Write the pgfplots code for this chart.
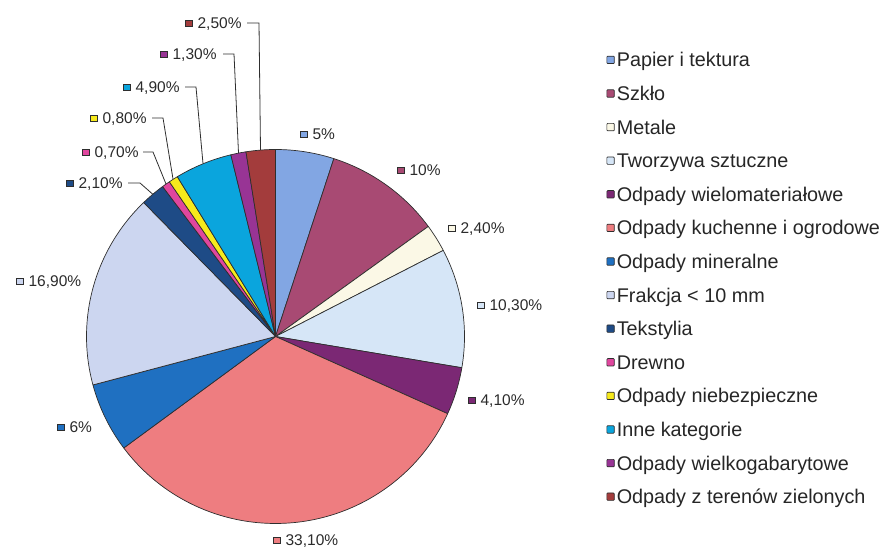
\documentclass[border=0pt]{standalone}
\usepackage{pgfplots}
\pgfplotsset{compat=1.18}
\usepackage{fontspec}
\setmainfont{Liberation Sans}

\definecolor{cPap}{HTML}{82A6E3}
\definecolor{cSzk}{HTML}{A84A73}
\definecolor{cMet}{HTML}{FBF8E6}
\definecolor{cTwo}{HTML}{D6E6F7}
\definecolor{cWie}{HTML}{7B2874}
\definecolor{cKuc}{HTML}{EE7D80}
\definecolor{cMin}{HTML}{1F70C1}
\definecolor{cFra}{HTML}{CCD6F0}
\definecolor{cTek}{HTML}{1E4B86}
\definecolor{cDre}{HTML}{E0469E}
\definecolor{cNie}{HTML}{F7EA1C}
\definecolor{cInn}{HTML}{0AA5DD}
\definecolor{cWgb}{HTML}{983495}
\definecolor{cZie}{HTML}{A33C3C}
\definecolor{edge}{HTML}{2E2E2E}
\definecolor{lbltext}{HTML}{2B2B2B}
\definecolor{legtext}{HTML}{262626}

% small square used in data labels
\newcommand\mk[1]{\raisebox{2bp}{\setlength\fboxsep{0pt}\setlength\fboxrule{0.7bp}\fcolorbox{edge}{#1}{\rule{0pt}{6bp}\rule{6bp}{0pt}}}}
% pie slice: #1 = cumulative share before the slice (%), #2 = share (%), #3 = colour
\newcommand\slice[3]{\addplot[forget plot, fill=#3, draw=edge, line width=0.7bp, line join=round,
  domain=90-3.6*(#1+#2)/1.001:90-3.6*#1/1.001, samples=90]
  ({275.5+189*cos(x)},{212.5+187*sin(x)}) -- (axis cs:275.5,212.5) -- cycle;}
% data label: x, baseline y, colour, text
\newcommand\lbl[4]{\node[anchor=base west, inner sep=0pt, font=\fontsize{15.5bp}{17bp}\selectfont, text=lbltext] at (axis cs:#1,#2) {\mk{#3}\hspace{5bp}#4};}
\newcommand\lead[1]{\addplot[forget plot, draw=edge, line width=0.8bp] coordinates {#1};}

\begin{document}
\begin{tikzpicture}
\begin{axis}[
  scale only axis, width=882bp, height=549bp,
  xmin=0, xmax=882, ymin=0, ymax=549,
  hide axis, clip=false,
  legend cell align=left,
  legend image code/.code={\draw[#1, line width=0.7bp, rounded corners=0.8bp] (0bp,-3.7bp) rectangle (7.4bp,3.7bp);},
  legend style={at={(axis cs:606.5,499)}, anchor=north west, draw=none, fill=none,
    inner sep=0pt, outer sep=0pt, row sep=13.8bp, column sep=2.2bp,
    font=\fontsize{19.8bp}{22bp}\selectfont, text=legtext,
    nodes={inner sep=0pt, text height=17bp, text depth=2.8bp}},
]
\addplot[forget plot, draw=none] coordinates {(0,0) (882,549)};

% shares (%): 5, 10, 2.4, 10.3, 4.1, 33.1, 6, 16.9, 2.1, 0.7, 0.8, 4.9, 1.3, 2.5
\slice{0}{5}{cPap}
\slice{5}{10}{cSzk}
\slice{15}{2.4}{cMet}
\slice{17.4}{10.3}{cTwo}
\slice{27.7}{4.1}{cWie}
\slice{31.8}{33.1}{cKuc}
\slice{64.9}{6}{cMin}
\slice{70.9}{16.9}{cFra}
\slice{87.8}{2.1}{cTek}
\slice{89.9}{0.7}{cDre}
\slice{90.6}{0.8}{cNie}
\slice{91.4}{4.9}{cInn}
\slice{96.3}{1.3}{cWgb}
\slice{97.6}{2.5}{cZie}

% leader lines
\lead{(247,526) (259,526) (260.5,399)}
\lead{(223,495) (234,495) (238.5,396)}
\lead{(185,462) (196,462) (203,385.5)}
\lead{(152,431) (163,431) (173,370)}
\lead{(143,397) (153,397) (166,365)}
\lead{(128,366) (140,366) (152.5,355)}

% data labels
\lbl{185}{520.5}{cZie}{2,50\%}
\lbl{160}{489.5}{cWgb}{1,30\%}
\lbl{123}{456.5}{cInn}{4,90\%}
\lbl{90}{425.5}{cNie}{0,80\%}
\lbl{82}{391.5}{cDre}{0,70\%}
\lbl{66}{360.5}{cTek}{2,10\%}
\lbl{16}{262.5}{cFra}{16,90\%}
\lbl{57}{116.5}{cMin}{6\%}
\lbl{300}{409.5}{cPap}{5\%}
\lbl{397}{373.5}{cSzk}{10\%}
\lbl{448}{315.5}{cMet}{2,40\%}
\lbl{477}{238.5}{cTwo}{10,30\%}
\lbl{468}{143.5}{cWie}{4,10\%}
\lbl{273}{3.6}{cKuc}{33,10\%}

% legend
\addlegendimage{fill=cPap, draw=edge}\addlegendentry{Papier i tektura}
\addlegendimage{fill=cSzk, draw=edge}\addlegendentry{Szkło}
\addlegendimage{fill=cMet, draw=edge}\addlegendentry{Metale}
\addlegendimage{fill=cTwo, draw=edge}\addlegendentry{Tworzywa sztuczne}
\addlegendimage{fill=cWie, draw=edge}\addlegendentry{Odpady wielomateriałowe}
\addlegendimage{fill=cKuc, draw=edge}\addlegendentry{Odpady kuchenne i ogrodowe}
\addlegendimage{fill=cMin, draw=edge}\addlegendentry{Odpady mineralne}
\addlegendimage{fill=cFra, draw=edge}\addlegendentry{Frakcja < 10 mm}
\addlegendimage{fill=cTek, draw=edge}\addlegendentry{Tekstylia}
\addlegendimage{fill=cDre, draw=edge}\addlegendentry{Drewno}
\addlegendimage{fill=cNie, draw=edge}\addlegendentry{Odpady niebezpieczne}
\addlegendimage{fill=cInn, draw=edge}\addlegendentry{Inne kategorie}
\addlegendimage{fill=cWgb, draw=edge}\addlegendentry{Odpady wielkogabarytowe}
\addlegendimage{fill=cZie, draw=edge}\addlegendentry{Odpady z terenów zielonych}
\end{axis}
\pgfresetboundingbox
\path (0,0) rectangle (882bp,549bp);
\end{tikzpicture}
\end{document}
